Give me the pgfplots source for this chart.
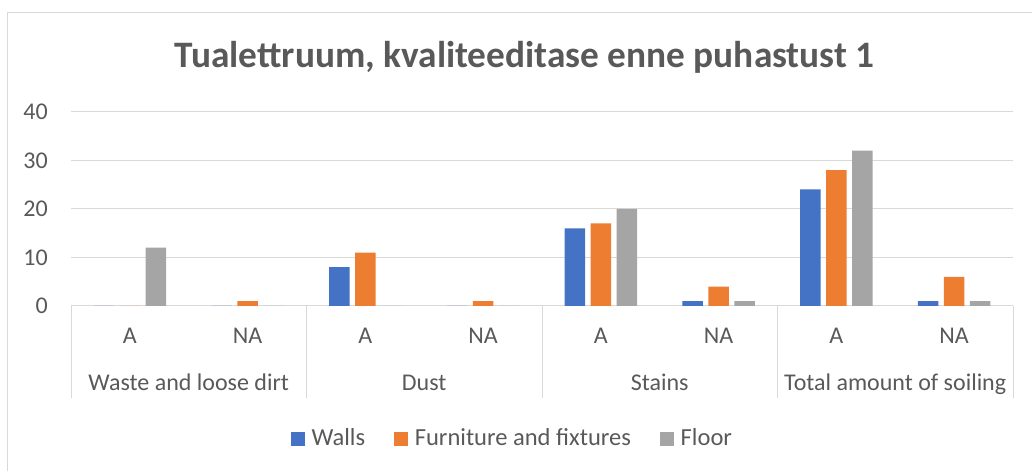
\documentclass[border=0pt]{standalone}
\usepackage{fontspec}
\setmainfont{Carlito}
\usepackage{pgfplots}
\pgfplotsset{compat=1.18}
\definecolor{walls}{HTML}{4472C4}
\definecolor{furn}{HTML}{ED7D31}
\definecolor{floorc}{HTML}{A5A5A5}
\definecolor{txt}{HTML}{595959}
\definecolor{gridc}{HTML}{D9D9D9}
\begin{document}
\begin{tikzpicture}
\useasboundingbox (0,0) rectangle (774pt,353.25pt);
\draw[gridc, line width=0.75pt] (5.25pt,-5pt) -- (5.25pt,343.9pt) -- (780pt,343.9pt);
\node[anchor=base, inner sep=0pt, text=txt, font=\fontsize{28}{33}\selectfont\bfseries] at (393.4pt,302.25pt) {Tualettruum, kvaliteeditase enne puhastust 1};
\begin{axis}[
 at={(53.25pt,123.75pt)}, anchor=south west,
 scale only axis, width=706.5pt, height=145.7pt,
 xmin=-0.5, xmax=7.5, ymin=0, ymax=40,
 ytick={0,10,20,30,40},
 xtick={0,1,2,3,4,5,6,7}, xticklabels={A,NA,A,NA,A,NA,A,NA},
 axis line style={draw=none},
 major tick length=0pt,
 ymajorgrids, grid style={gridc, line width=0.75pt},
 tick label style={text=txt, font=\fontsize{18}{21}\selectfont},
 /pgf/number format/assume math mode=true,
 yticklabel style={inner sep=0pt, xshift=-17.25pt},
 xticklabel style={anchor=base, inner sep=0pt, yshift=-28.5pt},
 clip=false,
 ybar, bar width=0.174,
 legend columns=3,
 legend cell align=left,
 legend style={at={(0.4676,-0.691)}, anchor=center, draw=none, fill=none, inner sep=0pt,
   font=\fontsize{18.4}{21}\selectfont\color{txt},
   nodes={inner sep=0pt, text height=0.7em, text depth=0.2em},
   /tikz/every odd column/.append style={column sep=5pt},
   /tikz/every even column/.append style={column sep=21.75pt}},
 legend image code/.code={\fill[#1] (0pt,-3pt) rectangle (10.5pt,7.5pt);},
]
\addplot[fill=walls, draw=none, bar shift=-0.221] coordinates {(0,0) (1,0) (2,8) (3,0) (4,16) (5,1) (6,24) (7,1)};
\addplot[fill=furn, draw=none, bar shift=0] coordinates {(0,0) (1,1) (2,11) (3,1) (4,17) (5,4) (6,28) (7,6)};
\addplot[fill=floorc, draw=none, bar shift=0.221] coordinates {(0,12) (1,0) (2,0) (3,0) (4,20) (5,1) (6,32) (7,1)};
\legend{Walls, Furniture and fixtures, Floor}
\draw[gridc, line width=0.75pt] (axis cs:-0.5,0) -- ([yshift=-69pt]axis cs:-0.5,0);
\draw[gridc, line width=0.75pt] (axis cs:1.5,0) -- ([yshift=-69pt]axis cs:1.5,0);
\draw[gridc, line width=0.75pt] (axis cs:3.5,0) -- ([yshift=-69pt]axis cs:3.5,0);
\draw[gridc, line width=0.75pt] (axis cs:5.5,0) -- ([yshift=-69pt]axis cs:5.5,0);
\draw[gridc, line width=0.75pt] (axis cs:7.5,0) -- ([yshift=-69pt]axis cs:7.5,0);
\node[anchor=base, inner sep=0pt, text=txt, font=\fontsize{18}{21}\selectfont, yshift=-63.75pt] at (axis cs:0.5,0) {Waste and loose dirt};
\node[anchor=base, inner sep=0pt, text=txt, font=\fontsize{18}{21}\selectfont, yshift=-63.75pt] at (axis cs:2.5,0) {Dust};
\node[anchor=base, inner sep=0pt, text=txt, font=\fontsize{18}{21}\selectfont, yshift=-63.75pt] at (axis cs:4.5,0) {Stains};
\node[anchor=base, inner sep=0pt, text=txt, font=\fontsize{18}{21}\selectfont, yshift=-63.75pt] at (axis cs:6.5,0) {Total amount of soiling};
\end{axis}
\end{tikzpicture}
\end{document}
